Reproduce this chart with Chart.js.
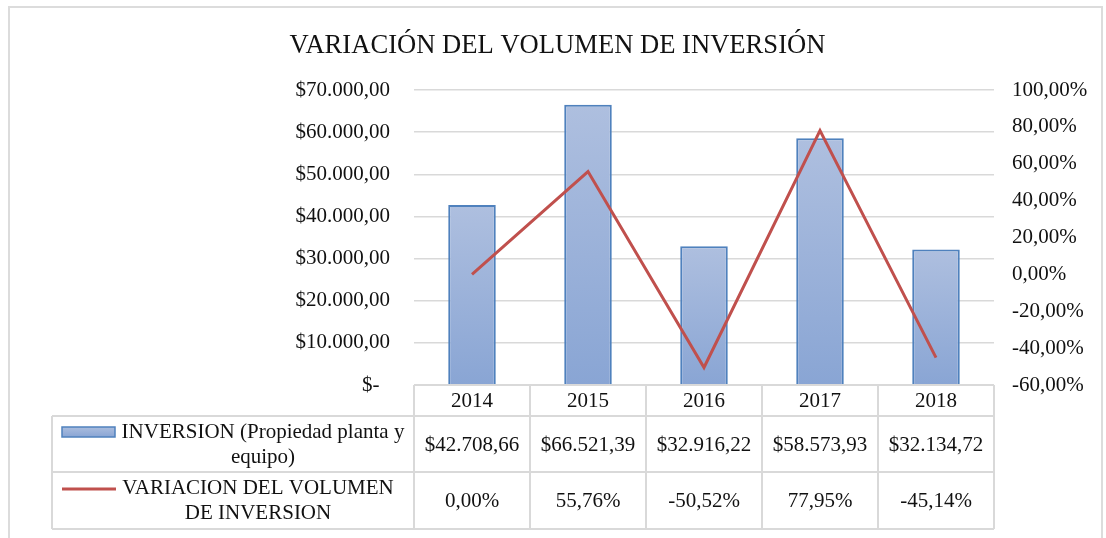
<!DOCTYPE html>
<html>
<head>
<meta charset="utf-8">
<script src="https://cdn.jsdelivr.net/npm/chart.js@4/dist/chart.umd.min.js"></script>
<style>
  html, body { margin: 0; padding: 0; background: #fff; }
  #wrap { position: relative; width: 1106px; height: 538px; overflow: hidden; }
  #frame { position: absolute; left: 8px; top: 6px; width: 1095px; height: 600px; border: 2px solid #dcdcdc; box-sizing: border-box; }
  canvas { position: absolute; left: 0; top: 0; }
</style>
</head>
<body>
<div id="wrap">
  <div id="frame"></div>
  <canvas id="chart" width="1106" height="538"></canvas>
</div>
<script>
const years = ['2014', '2015', '2016', '2017', '2018'];
const inversion = [42708.66, 66521.39, 32916.22, 58573.93, 32134.72];
const variacion = [0.00, 55.76, -50.52, 77.95, -45.14]; // percent
const seriesNames = [
    ['INVERSION (Propiedad planta y', 'equipo)'],
    ['VARIACION DEL VOLUMEN', 'DE INVERSION']
];
const chartTitle = 'VARIACIÓN DEL VOLUMEN DE INVERSIÓN';

const FONT = '"Liberation Serif", "Times New Roman", serif';
const TEXT = '#111';
const GRID = '#d9d9d9';
const BAR_BORDER = '#4f81bd';
const LINE_COLOR = '#c0504d';

// 1234.5 -> "1.234,50"
function fmtMoney(v) {
    const parts = v.toFixed(2).split('.');
    parts[0] = parts[0].replace(/\B(?=(\d{3})+(?!\d))/g, '.');
    return parts[0] + ',' + parts[1];
}
function fmtPct(v) {
    return v.toFixed(2).replace('.', ',') + '%';
}

function barGradient(ctx) {
    const chart = ctx.chart;
    if (!chart.chartArea || ctx.raw === undefined) return '#9cb2da';
    const y = chart.scales.y;
    const top = y.getPixelForValue(ctx.raw);
    const bottom = y.getPixelForValue(0);
    const g = chart.ctx.createLinearGradient(0, top, 0, bottom);
    g.addColorStop(0, '#aebfdf');
    g.addColorStop(1, '#89a5d4');
    return g;
}

// data table under the plot, Excel style
const dataTable = {
    id: 'dataTable',
    afterDraw(chart) {
        const { ctx, scales } = chart;
        const x = scales.x;
        const area = chart.chartArea;
        const colW = (x.right - x.left) / years.length;
        const rows = [385, 416, 472, 529];
        const legendLeft = 52;

        ctx.save();
        ctx.strokeStyle = GRID;
        ctx.lineWidth = 2;
        // horizontal lines
        ctx.beginPath();
        ctx.moveTo(area.left, rows[0]); ctx.lineTo(area.right, rows[0]);
        for (let i = 1; i < rows.length; i++) {
            ctx.moveTo(legendLeft, rows[i]); ctx.lineTo(area.right, rows[i]);
        }
        // vertical lines
        ctx.moveTo(legendLeft, rows[1]); ctx.lineTo(legendLeft, rows[3]);
        for (let i = 0; i <= years.length; i++) {
            const px = area.left + i * colW;
            ctx.moveTo(px, rows[0]); ctx.lineTo(px, rows[3]);
        }
        ctx.stroke();

        ctx.fillStyle = TEXT;
        ctx.font = '21px ' + FONT;
        ctx.textAlign = 'center';
        ctx.textBaseline = 'middle';
        years.forEach((yr, i) => {
            const cx = x.getPixelForValue(i);
            ctx.fillText(yr, cx, 401);
            ctx.fillText('$' + fmtMoney(inversion[i]), cx, 445);
            ctx.fillText(fmtPct(variacion[i]), cx, 501);
        });

        // legend keys
        const g = ctx.createLinearGradient(0, 426, 0, 437);
        g.addColorStop(0, '#aebfdf');
        g.addColorStop(1, '#89a5d4');
        ctx.fillStyle = g;
        ctx.fillRect(62, 427, 53, 10);
        ctx.strokeStyle = BAR_BORDER;
        ctx.lineWidth = 1.5;
        ctx.strokeRect(62, 427, 53, 10);

        ctx.strokeStyle = LINE_COLOR;
        ctx.lineWidth = 3;
        ctx.beginPath();
        ctx.moveTo(62, 489); ctx.lineTo(116, 489);
        ctx.stroke();

        ctx.fillStyle = TEXT;
        ctx.fillText(seriesNames[0][0], 263, 432);
        ctx.fillText(seriesNames[0][1], 263, 457);
        ctx.fillText(seriesNames[1][0], 258, 488);
        ctx.fillText(seriesNames[1][1], 258, 513);
        ctx.restore();
    }
};

new Chart(document.getElementById('chart'), {
    data: {
        labels: years,
        datasets: [
            {
                type: 'line',
                label: seriesNames[1].join(' '),
                data: variacion,
                yAxisID: 'y1',
                borderColor: LINE_COLOR,
                borderWidth: 3,
                pointRadius: 0,
                tension: 0,
                order: 0
            },
            {
                type: 'bar',
                label: seriesNames[0].join(' '),
                data: inversion,
                yAxisID: 'y',
                backgroundColor: barGradient,
                borderColor: BAR_BORDER,
                borderWidth: 2,
                categoryPercentage: 1,
                barPercentage: 0.41,
                order: 1
            }
        ]
    },
    options: {
        responsive: false,
        devicePixelRatio: 1,
        animation: false,
        layout: { padding: { left: 9, right: 0, top: 0, bottom: 153 } },
        plugins: {
            legend: { display: false },
            tooltip: { enabled: false },
            title: {
                display: true,
                text: chartTitle,
                color: TEXT,
                font: { family: FONT, size: 26.6, weight: 'normal', lineHeight: 1.2 },
                padding: { top: 30, bottom: 28.08 }
            }
        },
        scales: {
            x: {
                type: 'category',
                display: false,
                offset: true
            },
            y: {
                position: 'left',
                min: 0,
                max: 70000,
                afterFit: s => { s.width = 405; },
                border: { display: false },
                grid: { color: GRID, lineWidth: 1.5, drawTicks: false },
                ticks: {
                    stepSize: 10000,
                    padding: 24,
                    color: TEXT,
                    font: { family: FONT, size: 21 },
                    callback: v => v === 0 ? '$-  ' : '$' + fmtMoney(v)
                }
            },
            y1: {
                position: 'right',
                min: -60,
                max: 100,
                afterFit: s => { s.width = 112; },
                border: { display: false },
                grid: { display: false, drawTicks: false },
                ticks: {
                    stepSize: 20,
                    padding: 18,
                    color: TEXT,
                    font: { family: FONT, size: 21 },
                    callback: v => fmtPct(v)
                }
            }
        }
    },
    plugins: [dataTable]
});
</script>
</body>
</html>
